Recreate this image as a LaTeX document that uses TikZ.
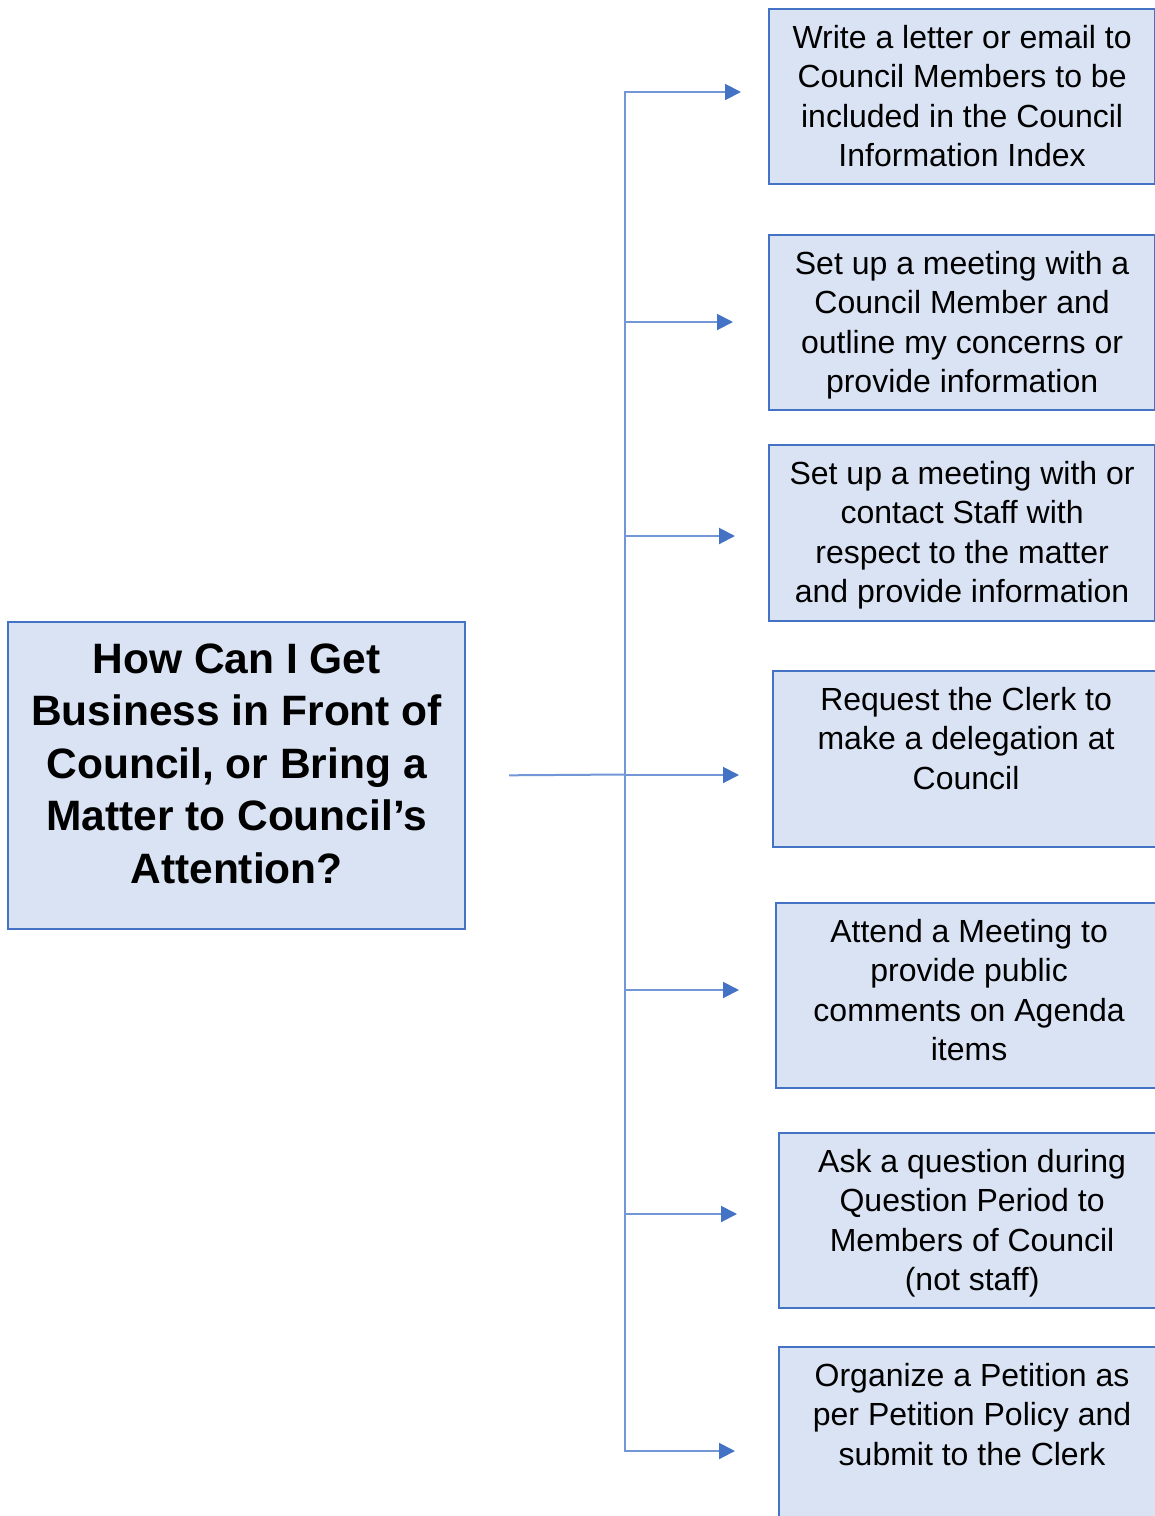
\documentclass[tikz,border=0pt]{standalone}
\usepackage{fontspec}
\setmainfont{Liberation Sans}
\usepackage{xcolor}
\usetikzlibrary{arrows.meta}

\definecolor{boxfill}{HTML}{DAE3F3}
\definecolor{boxline}{HTML}{4472C4}
\definecolor{linkline}{HTML}{7396D6}

% top-aligned text inside a box of fixed height
\newcommand{\boxtext}[3][370pt]{\parbox[t][#2][t]{#1}{\centering\strut #3}}

\begin{document}
\begin{tikzpicture}[x=1pt,y=-1pt,
    optionbox/.style={draw=boxline,fill=boxfill,line width=2.2pt,anchor=north west,
        inner xsep=8pt,inner ysep=11.28pt,font=\fontsize{32}{39.6}\selectfont},
    link/.style={color=linkline,line width=2pt},
    tip/.style={-{Triangle[length=16pt,width=16pt,color=boxline]}}]
        \useasboundingbox (0,0) rectangle (1155,1516);

        \node[optionbox,inner ysep=14.25pt,font=\fontsize{42.5}{52.5}\selectfont\bfseries]
            (question) at (7,621)
            {\boxtext[441pt]{278.5pt}{How Can I Get\\Business in Front of\\Council, or Bring a\\Matter to Council’s\\Attention?}};

        \node[optionbox] (letter) at (768,8)
            {\boxtext{152.4pt}{Write a letter or email to\\Council Members to be\\included in the Council\\Information Index}};
        \node[optionbox] (member) at (768,234)
            {\boxtext{152.4pt}{Set up a meeting with a\\Council Member and\\outline my concerns or\\provide information}};
        \node[optionbox] (staff) at (768,444)
            {\boxtext{153.4pt}{Set up a meeting with or\\contact Staff with\\respect to the matter\\and provide information}};
        \node[optionbox] (delegation) at (772,670)
            {\boxtext{153.4pt}{Request the Clerk to\\make a delegation at\\Council}};
        \node[optionbox] (meeting) at (775,902)
            {\boxtext{162.4pt}{Attend a Meeting to\\provide public\\comments on Agenda\\items}};
        \node[optionbox] (question period) at (778,1132)
            {\boxtext{152.4pt}{Ask a question during\\Question Period to\\Members of Council\\(not staff)}};
        \node[optionbox] (petition) at (778,1346)
            {\boxtext{167.4pt}{Organize a Petition as\\per Petition Policy and\\submit to the Clerk}};

        \coordinate (hub) at (625,774.5);
        \draw[link,shorten <=43pt] (question.east) -- (hub);

        \foreach \y/\x [count=\i] in {92/741,322/733,536/735,775/739,990/739,1214/737,1451/735}{
            \coordinate (tip\i) at (\x,\y);
            \draw[link,tip] (hub) |- (tip\i);
        }
    \end{tikzpicture}
\end{document}
